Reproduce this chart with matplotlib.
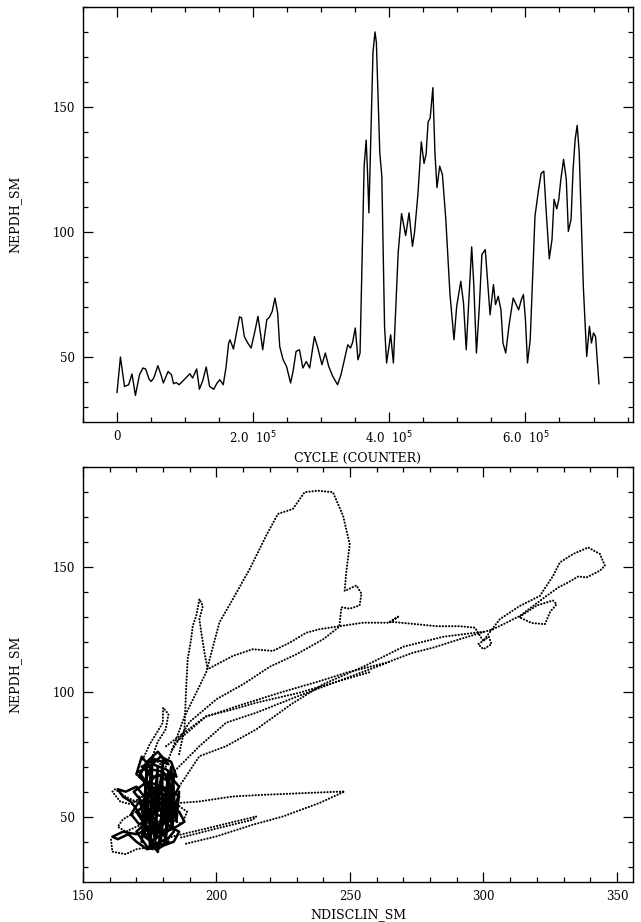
import numpy as np
import matplotlib
matplotlib.use("Agg")
import matplotlib.pyplot as plt
from matplotlib.ticker import MultipleLocator, FixedLocator, FixedFormatter

# NEPDH_SM against cycle (in units of 1000 cycles)
cycle_k = [0, 5, 11, 17, 22, 27, 33, 38, 42, 47, 50, 54, 60, 65, 68, 75, 80, 83, 87, 91,
           96, 101, 107, 111, 117, 121, 126, 131, 136, 142, 147, 151, 156, 160, 164, 166, 171, 175, 180, 183,
           187, 192, 197, 203, 207, 211, 214, 220, 224, 228, 232, 236, 239, 244, 249, 255, 259, 263, 268, 273,
           278, 283, 290, 295, 301, 306, 311, 317, 324, 329, 334, 339, 343, 346, 350, 354, 357, 363, 366, 368,
           370, 376, 379, 381, 386, 389, 393, 396, 402, 406, 413, 418, 424, 429, 434, 437, 442, 447, 451, 454,
           457, 460, 464, 467, 470, 474, 478, 483, 489, 495, 499, 505, 509, 513, 521, 524, 528, 532, 536, 541,
           548, 553, 556, 560, 564, 567, 571, 576, 582, 590, 594, 597, 600, 603, 607, 614, 619, 623, 627, 630,
           635, 639, 642, 646, 649, 652, 656, 660, 663, 667, 670, 673, 676, 679, 685, 690, 694, 697, 700, 703,
           708]
nepdh = [35.7, 49.9, 38.1, 38.8, 43.1, 34.5, 42.8, 45.5, 45.1, 41.1, 40.1, 41.5, 46.4, 42.4, 39.5, 44.1, 42.8, 39.2, 39.7, 38.8,
         40.1, 41.5, 43.2, 41.5, 45.1, 37.0, 40.5, 45.9, 38.1, 37.0, 39.5, 40.8, 38.8, 45.5, 55.5, 56.8, 53.1, 58.8, 66.0, 65.5,
         58.1, 55.5, 53.5, 60.8, 66.2, 58.8, 52.8, 64.8, 65.9, 68.2, 73.5, 67.5, 54.1, 48.8, 46.1, 39.5, 44.8, 52.1, 52.8, 45.5,
         48.1, 45.5, 58.1, 53.5, 46.8, 51.5, 46.1, 42.1, 38.8, 42.8, 48.8, 54.8, 53.5, 55.7, 61.5, 48.8, 51.5, 126.3, 136.7, 123.7,
         107.6, 171.8, 180.0, 175.8, 131.7, 122.3, 62.2, 47.5, 58.8, 47.5, 91.6, 107.3, 98.5, 107.6, 94.2, 99.6, 115.0, 136.0, 127.4, 131.0,
         144.0, 145.5, 157.7, 131.7, 117.7, 126.3, 122.9, 105.0, 75.5, 56.8, 70.2, 80.2, 71.5, 52.8, 94.0, 79.5, 51.5, 68.8, 90.9, 92.9,
         66.8, 78.9, 70.9, 74.2, 68.8, 55.5, 51.5, 62.8, 73.5, 68.8, 72.9, 74.9, 64.8, 47.5, 56.8, 106.3, 116.3, 123.4, 124.3, 110.3,
         89.2, 96.9, 113.0, 109.2, 113.0, 121.0, 129.0, 121.0, 100.2, 105.0, 125.0, 137.0, 142.6, 131.7, 78.2, 50.1, 62.2, 55.5, 59.5, 58.1,
         39.2]

# NDISCLIN_SM vs NEPDH_SM, traced strands of the trajectory
cluster_x = [176, 172, 178, 174, 180, 183, 178, 173, 170, 175, 181, 185, 182, 176, 172, 169, 174, 180, 184, 186,
             182, 176, 172, 177, 182, 178, 174, 171, 175, 179, 183, 180, 175, 173, 177, 181, 186, 184, 179, 174,
             170, 167, 163, 161, 165, 170, 175, 180, 185, 188, 186, 181, 177, 173, 170, 166, 163, 165, 168, 172]
cluster_y = [40, 44, 48, 52, 50, 45, 42, 47, 52, 56, 54, 50, 58, 60, 56, 60, 64, 62, 58, 62,
             67, 66, 70, 73, 71, 76, 72, 66, 62, 57, 62, 68, 69, 63, 58, 47, 44, 40, 38, 37,
             40, 43, 41, 42, 44, 43, 45, 44, 46, 48, 52, 52, 54, 58, 62, 60, 61, 58, 56, 50]
cluster2_x = [178, 175, 180, 177, 174, 179, 183, 181, 176, 172, 175, 180, 184, 182, 178, 174, 171, 176, 181, 185,
              183, 179, 175, 172, 170, 174, 178, 182, 186, 184, 180, 176, 173, 177, 181, 179, 175, 171, 168, 171,
              175, 179, 183, 181, 177, 173, 170, 174, 178, 182]
cluster2_y = [36, 40, 43, 46, 50, 53, 50, 55, 57, 54, 59, 61, 57, 64, 67, 63, 68, 71, 69, 66,
              72, 74, 70, 74, 67, 64, 60, 62, 58, 54, 48, 45, 42, 39, 41, 46, 49, 47, 51, 56,
              53, 55, 51, 45, 43, 47, 44, 38, 37, 40]
cluster3_x = [170, 166, 162, 161, 164, 168, 172, 176, 170, 165, 163, 166, 170, 175, 179, 183, 187, 189, 185, 180]
cluster3_y = [56, 58, 61, 60, 56, 55, 58, 55, 52, 49, 46, 44, 46, 48, 46, 49, 47, 52, 55, 58]
core_x = [172, 174, 173, 176, 175, 178, 177, 180, 179, 182, 181, 184, 183, 186, 185, 183, 181, 179, 177, 175,
          173, 171, 176, 174, 178, 180, 177, 182, 184, 180]
core_y = [40, 72, 42, 74, 38, 70, 44, 73, 39, 68, 41, 66, 45, 60, 48, 70, 50, 64, 52, 62,
          48, 58, 37, 55, 36, 52, 41, 56, 44, 39]
bump_x = [172.4, 175, 179.9, 180, 182, 181, 178, 176, 180]
bump_y = [72.9, 79, 87.6, 93.6, 91, 85, 80, 74, 70]

spike_x = [160.5, 161, 166, 170, 176, 183.6, 199, 214.9, 213.6, 199, 186.1]
spike_y = [40.8, 36, 35, 37, 38, 42.1, 46, 50.1, 48.8, 45, 41.5]

wedge_x = [188.6, 199.9, 213.6, 224.9, 238.6, 248, 238.6, 218.6, 206.1, 193.6, 186.1]
wedge_y = [39.2, 42.1, 46.8, 50.1, 55.5, 60.1, 59.7, 58.8, 58.1, 56.1, 55.5]

right_x = [186, 188, 188.6, 189.2, 190.5, 191.1, 192.4, 193.6, 194.9, 193.6, 194.3, 195.5, 196.7, 206.1, 213.6,
           221.1, 227.4, 233.6, 238.6, 246.1, 254.9, 264.9, 268, 265, 274.9, 282.4, 291.1, 296.8, 299.9, 298,
           300, 303, 302, 299.9, 306.1, 313.6, 321.1, 326.1, 328.6, 333.6, 339.2, 343.6, 345.5, 343.6, 338.6,
           335.5, 331.7, 328, 323.6, 318.6, 313.6, 308.6, 303.6, 291.1, 281.1, 273.6, 263.6, 256.1, 248.6, 238.9,
           225, 210, 196, 185]
right_y = [75, 85, 100.9, 113, 121, 126.3, 130.3, 137, 134.3, 129, 123.7, 115.6, 109, 114.3, 117,
           116.3, 119.6, 123.6, 125, 126.2, 127.6, 127.6, 130, 128, 127, 126.2, 126.2, 125.6, 120.3, 119,
           117, 119, 122, 120.3, 129, 134.3, 138.3, 146.4, 151.7, 155.1, 157.7, 155.1, 150.4, 148.4, 145.7,
           146.1, 143.7, 141.7, 138.3, 134.3, 130.3, 127.6, 125, 121, 117.6, 115.6, 111.6, 109.6, 107.6, 104.3,
           100, 95, 90, 80]

top_x = [181, 188, 196.1, 201.1, 206.1, 212.4, 218.6, 223, 228.6, 233, 238, 243.6, 247.4, 249.9, 248.6,
         248, 252.4, 254.3, 253.6, 249.9, 246.8, 246, 240, 230, 220, 210, 200, 190, 183]
top_y = [70, 90, 107.6, 127.7, 137, 149, 162.4, 171.1, 173.1, 179.8, 180.4, 179.8, 170.4, 159, 147.7,
         140.3, 142.5, 139.2, 134.5, 133.2, 133.8, 126, 121, 115, 110, 103, 97, 88, 76]

loop_x = [313.6, 320, 326, 327.4, 325, 323, 318, 314]
loop_y = [130, 134.5, 136.5, 135, 132, 127, 127.5, 129.5]

strand1_x = [181.1, 196.1, 206.1, 214.9, 231.1, 245, 258]
strand1_y = [78.2, 90.2, 92.9, 95.6, 99.6, 104, 108]
strand2_x = [183.6, 193.6, 203.6, 214.9, 230, 250, 265]
strand2_y = [67.5, 78.2, 87.6, 91.6, 98, 106, 112]
strand3_x = [186.1, 193.6, 203.6, 215, 228, 240, 255, 270, 285, 300]
strand3_y = [62.2, 74.2, 78.2, 85, 95, 103, 110, 118, 122, 124]

W = 641
H = 922
fig = plt.figure(figsize=(W / 100, H / 100), dpi=100)
plt.rcParams['font.family'] = ['DejaVu Serif']

ax1 = fig.add_axes([83 / W, 1 - 421.7 / H, 550 / W, 414.7 / H])
ax2 = fig.add_axes([83 / W, 1 - 881.7 / H, 550 / W, 415 / H])


def style_axes(ax):
    for s in ax.spines.values():
        s.set_linewidth(1.0)
    ax.tick_params(which='both', direction='in', top=True, right=True, width=0.9, labelsize=8.5, pad=6)
    ax.tick_params(which='major', length=7)
    ax.tick_params(which='minor', length=3.5)


cycles = np.array(cycle_k) * 1e3
ax1.plot(cycles, nepdh, color='black', lw=1.0)
ax1.set_xlim(-0.5e5, 7.58e5)
ax1.set_ylim(24, 190)
ax1.xaxis.set_major_locator(FixedLocator([0, 2e5, 4e5, 6e5]))
ax1.xaxis.set_major_formatter(FixedFormatter(['0', '2.0  10$^5$', '4.0  10$^5$', '6.0  10$^5$']))
ax1.xaxis.set_minor_locator(MultipleLocator(0.5e5))
ax1.yaxis.set_major_locator(MultipleLocator(50))
ax1.yaxis.set_minor_locator(MultipleLocator(10))
ax1.set_xlabel('CYCLE (COUNTER)', fontsize=9, labelpad=4)
ax1.set_ylabel('NEPDH_SM', fontsize=9, labelpad=22)
style_axes(ax1)

segments = [(cluster3_x, cluster3_y), (bump_x, bump_y),
            (spike_x, spike_y), (wedge_x, wedge_y), (right_x, right_y),
            (top_x, top_y), (loop_x, loop_y), (strand1_x, strand1_y), (strand2_x, strand2_y),
            (strand3_x, strand3_y)]
for sx, sy in segments:
    ax2.plot(sx, sy, color='black', lw=1.5, dashes=(0.1, 1.4), dash_capstyle='round')
# dense core of the cluster
for sx, sy in [(cluster_x, cluster_y), (cluster2_x, cluster2_y), (core_x, core_y)]:
    ax2.plot(sx, sy, color='black', lw=1.8, solid_joinstyle='round')
ax2.set_xlim(150, 356)
ax2.set_ylim(24, 190)
ax2.xaxis.set_major_locator(MultipleLocator(50))
ax2.xaxis.set_minor_locator(MultipleLocator(10))
ax2.yaxis.set_major_locator(MultipleLocator(50))
ax2.yaxis.set_minor_locator(MultipleLocator(10))
ax2.set_xlabel('NDISCLIN_SM', fontsize=9, labelpad=4)
ax2.set_ylabel('NEPDH_SM', fontsize=9, labelpad=22)
style_axes(ax2)

fig.savefig('out.png', dpi=100)
